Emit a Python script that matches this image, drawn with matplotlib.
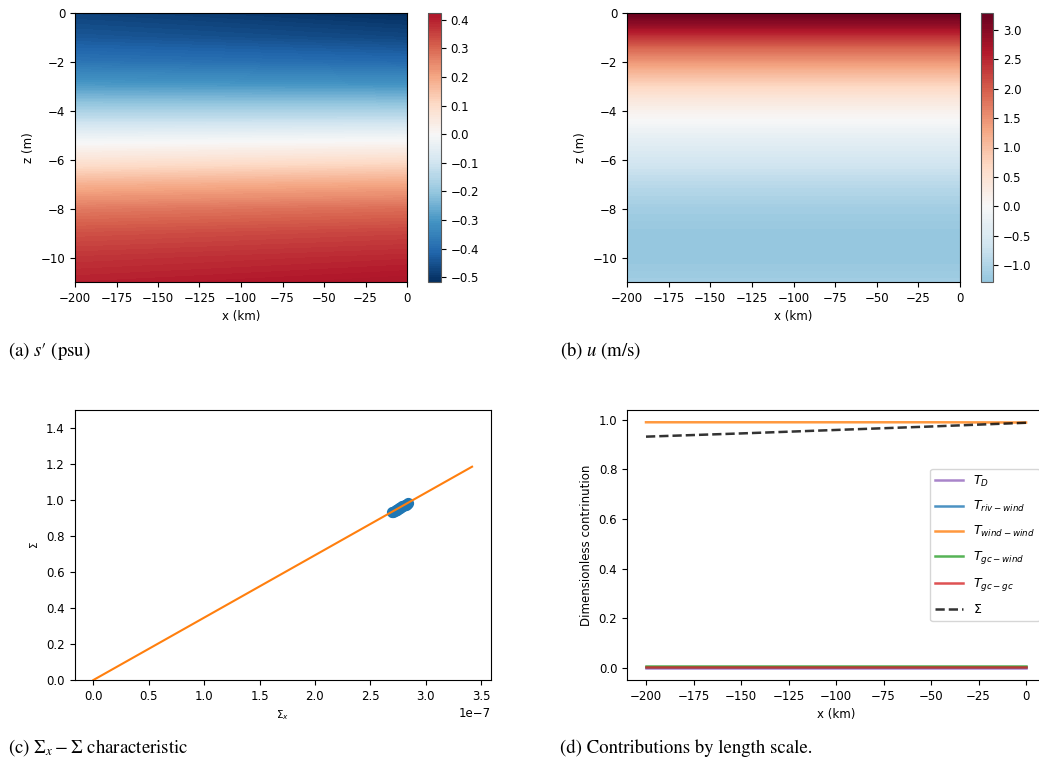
import numpy as np
import matplotlib
matplotlib.use("Agg")
import matplotlib.pyplot as plt
from matplotlib import ticker

plt.rcParams['font.size'] = 8.5

# (a) salinity anomaly s' profile, read at x = -200 km and x = 0 km
z_a = [0, -1, -2, -3, -4, -5, -6, -7, -8, -9, -10, -11]
x_a = [-200, 0]
s_left = [-0.48, -0.44, -0.38, -0.29, -0.17, -0.04, 0.07, 0.18, 0.27, 0.33, 0.37, 0.40]
s_right = [-0.517, -0.47, -0.40, -0.30, -0.17, -0.03, 0.09, 0.20, 0.29, 0.35, 0.39, 0.424]

# (b) velocity u profile (nearly uniform in x)
z_b = [0, -0.5, -1, -1.5, -2, -2.5, -3, -3.5, -4, -4.5, -5, -6, -7, -8, -9, -10, -11]
x_b = [-200, 0]
u_prof = [3.29, 2.9, 2.35, 1.85, 1.45, 1.05, 0.7, 0.4, 0.15, -0.05, -0.25, -0.6, -0.9,
          -1.15, -1.27, -1.29, -1.15]

# (c) Sigma_x - Sigma characteristic
char_x = [0.0, 3.42e-7]
char_y = [0.0, 1.185]
pts_sx = [2.70e-7, 2.71e-7, 2.72e-7, 2.73e-7, 2.74e-7, 2.75e-7, 2.76e-7, 2.77e-7,
          2.78e-7, 2.79e-7, 2.80e-7, 2.81e-7, 2.82e-7, 2.83e-7, 2.84e-7]
pts_s = [0.932, 0.936, 0.939, 0.943, 0.946, 0.950, 0.953, 0.957, 0.960, 0.964,
         0.967, 0.971, 0.975, 0.978, 0.983]

# (d) contributions by length scale
x_d = [-200, -150, -100, -50, 0]
T_D = [0.0, 0.0, 0.0, 0.0, 0.0]
T_riv_wind = [0.001, 0.001, 0.001, 0.001, 0.001]
T_wind_wind = [0.990, 0.990, 0.990, 0.990, 0.989]
T_gc_wind = [0.007, 0.007, 0.007, 0.007, 0.007]
T_gc_gc = [0.001, 0.001, 0.001, 0.001, 0.001]
T_sum = [0.932, 0.945, 0.959, 0.973, 0.988]

W, H = 1039, 762
fig = plt.figure(figsize=(W / 100, H / 100), dpi=100)


def box(l, t, r, b):
    return [l / W, 1 - b / H, (r - l) / W, (b - t) / H]


def field_panel(ax_rect, cb_rect, x, z, field):
    ax = fig.add_axes(box(*ax_rect))
    cax = fig.add_axes(box(*cb_rect))
    field = np.asarray(field)
    m = np.abs(field).max()
    levels = np.linspace(field.min(), field.max(), 120)
    cs = ax.contourf(x, z, field, levels=levels, cmap='RdBu_r', vmin=-m, vmax=m)
    ax.set_xlim(-200, 0)
    ax.set_ylim(-11, 0)
    ax.set_xlabel('x (km)')
    ax.set_ylabel('z (m)')
    cb = fig.colorbar(cs, cax=cax, ticks=ticker.MaxNLocator(10))
    cb.outline.set_edgecolor('0.35')
    return ax


field_a = np.column_stack([s_left, s_right])
field_panel((75, 13, 407, 282), (428, 13, 441, 282), x_a, z_a, field_a)

field_b = np.column_stack([u_prof, u_prof])
field_panel((627, 13, 960, 282), (981, 13, 993, 282), x_b, z_b, field_b)

# (c)
axc = fig.add_axes(box(74.5, 410, 491, 680))
axc.scatter(pts_sx, pts_s, s=50, color='C0', zorder=2)
axc.plot(char_x, char_y, color='C1', lw=1.5, zorder=3)
axc.set_ylim(0, 1.5)
axc.set_xlabel(r'$\Sigma_x$', fontsize=7.5)
axc.set_ylabel(r'$\Sigma$', fontsize=7.5)

# (d)
axd = fig.add_axes(box(627, 410, 1046, 680))
lw = 1.8
axd.plot(x_d, T_D, color='C4', lw=lw, alpha=0.8, label=r'$T_D$')
axd.plot(x_d, T_riv_wind, color='C0', lw=lw, alpha=0.8, label=r'$T_{riv-wind}$')
axd.plot(x_d, T_wind_wind, color='C1', lw=lw, alpha=0.8, label=r'$T_{wind-wind}$')
axd.plot(x_d, T_gc_wind, color='C2', lw=lw, alpha=0.8, label=r'$T_{gc-wind}$')
axd.plot(x_d, T_gc_gc, color='C3', lw=lw, alpha=0.8, label=r'$T_{gc-gc}$')
axd.plot(x_d, T_sum, color='k', lw=lw, ls='--', alpha=0.8, label=r'$\Sigma$')
axd.set_xlim(-210, 10.5)
axd.set_xlabel('x (km)')
axd.set_ylabel('Dimensionless contrinution')
axd.legend(loc='center right', fontsize=9, labelspacing=0.8, handlelength=2.2)

# subfigure captions
cap = dict(family='STIXGeneral', math_fontfamily='stix', fontsize=13.5, va='center')
fig.text(8 / W, 1 - 351 / H, "(a) $s$\u2032 (psu)", **cap)
fig.text(560 / W, 1 - 351 / H, r"(b) $u$ (m/s)", **cap)
fig.text(8 / W, 1 - 748 / H, r"(c) $\Sigma_x - \Sigma$ characteristic", **cap)
fig.text(560 / W, 1 - 748 / H, r"(d) Contributions by length scale.", **cap)

fig.savefig('out.png', dpi=100)
